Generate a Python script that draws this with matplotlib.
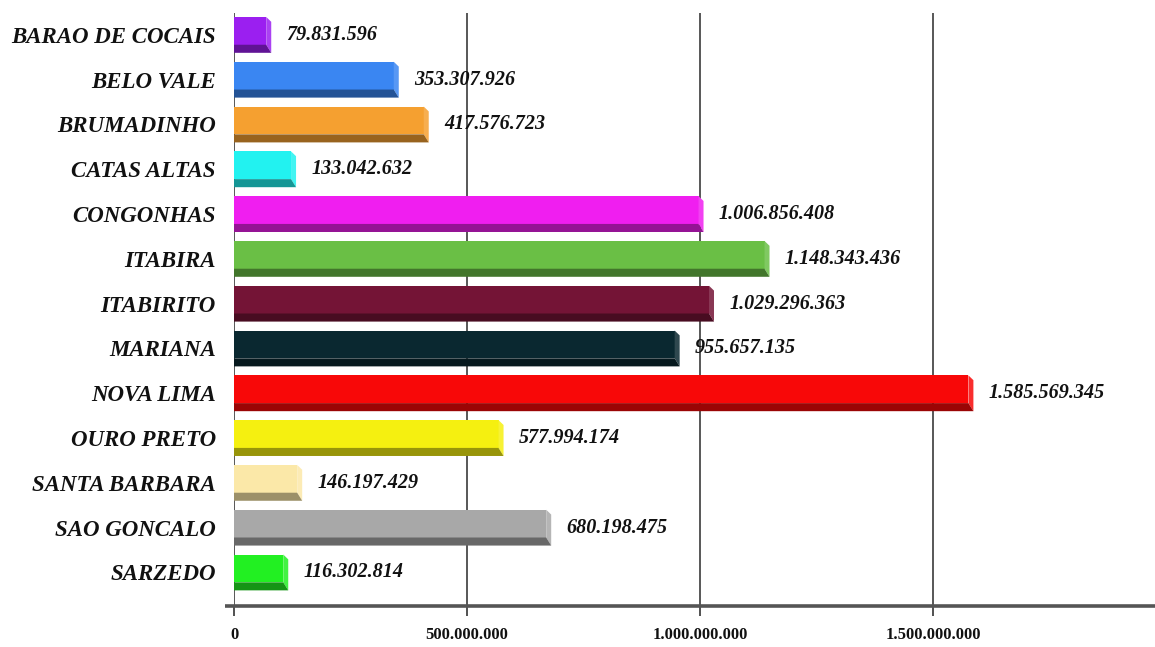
import matplotlib
matplotlib.use("Agg")
import matplotlib.pyplot as plt
import matplotlib.colors as mcolors
import numpy as np

# Municipality values
municipios = [
    "BARAO DE COCAIS", "BELO VALE", "BRUMADINHO", "CATAS ALTAS", "CONGONHAS",
    "ITABIRA", "ITABIRITO", "MARIANA", "NOVA LIMA", "OURO PRETO",
    "SANTA BARBARA", "SAO GONCALO", "SARZEDO",
]
valores = [
    79831596, 353307926, 417576723, 133042632, 1006856408,
    1148343436, 1029296363, 955657135, 1585569345, 577994174,
    146197429, 680198475, 116302814,
]
cores = [
    "#9b1ff0", "#3a86f2", "#f5a030", "#22f2f0", "#f01ef0",
    "#6abf45", "#741436", "#0a2830", "#f80808", "#f5f010",
    "#fbe8a8", "#a8a8a8", "#22f022",
]
xticks = [0, 500_000_000, 1_000_000_000, 1_500_000_000]


def fmt_br(v):
    return f"{v:,.0f}".replace(",", ".")


SERIF = ["Liberation Serif", "DejaVu Serif"]

fig = plt.figure(figsize=(11.55, 6.47), dpi=100)
ax = fig.add_axes([0.2026, 0.064, 0.7974, 0.916])

xmax = 1.975e9
ax.set_xlim(0, xmax)
ax.set_ylim(12.74, -0.49)

# pixel -> data conversion for the bevel depth
px = xmax / (1155 * 0.7974)
dx = 5 * px
h = 0.80
depth = 0.18

for i, (v, c) in enumerate(zip(valores, cores)):
    top = i - h / 2
    bot = i + h / 2
    mid = bot - depth
    rgb = np.array(mcolors.to_rgb(c))
    side = 1 - (1 - rgb) * 0.85
    dark = rgb * 0.62
    # front face
    ax.barh(top, v - dx, left=0, height=mid - top, color=c, align="edge",
            zorder=3, linewidth=0)
    # right side with bevelled top corner
    ax.fill([v - dx, v, v, v - dx], [top, top + depth * 0.6, bot, mid],
            color=side, zorder=3, linewidth=0)
    # lower shaded edge
    ax.fill([0, v - dx, v, 0], [mid, mid, bot, bot],
            color=dark, zorder=3, linewidth=0)
    ax.annotate(fmt_br(v), xy=(v, i), xytext=(11, 0), textcoords="offset points",
                va="center", ha="left", fontsize=14.5, fontweight="bold",
                fontstyle="italic", family=SERIF, color="#111111", zorder=4)

ax.set_yticks(range(len(municipios)))
ax.set_yticklabels(municipios, family=SERIF, fontsize=16.5, fontweight="bold",
                   fontstyle="italic", color="#111111")
ax.tick_params(axis="y", length=0, pad=13)

ax.set_xticks(xticks)
ax.set_xticklabels([fmt_br(t) for t in xticks], family=SERIF, fontsize=12,
                   fontweight="bold", color="#111111")
ax.tick_params(axis="x", direction="out", length=7.5, width=1.2, color="#333333",
               pad=8)

ax.grid(axis="x", color="#2a2a2a", linewidth=1.1, zorder=1)
ax.grid(axis="y", visible=False)

for s in ["top", "right", "left", "bottom"]:
    ax.spines[s].set_visible(False)
ax.plot([-0.01, 1.0], [0, 0], transform=ax.transAxes, color="#555555",
        linewidth=2.6, clip_on=False, zorder=5, solid_capstyle="butt")

fig.savefig("out.png", dpi=100)
